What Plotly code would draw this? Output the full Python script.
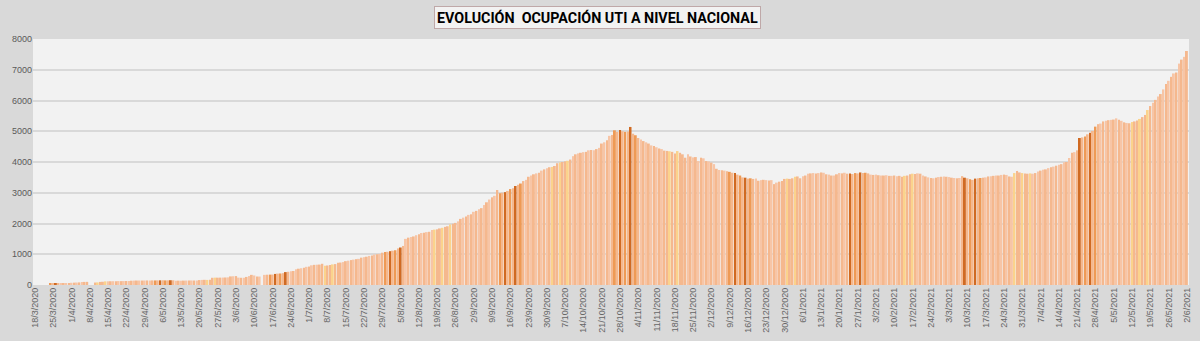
import pandas as pd
import plotly.graph_objects as go

# ---- data -------------------------------------------------------------
start_date = "2020-03-18"
end_date = "2021-06-02"
dates = pd.date_range(start_date, end_date, freq="D")

# daily ICU occupancy; None = no bar
uti = [
    None, None, None, None, None, None,              # 18/3 - 23/3
    35, 40, 45, 50, 55, 58, 62, 66,                   # 24/3 - 31/3
    72, 76, 80, 85, 95, 100, 102,                     # 1/4 - 7/4
    None, None, 80, 85, 100, 105, 118,                # 8/4 - 14/4
    120, 122, 124, 125, 127, 126, 128,                # 15/4 - 21/4
    130, 132, 140, 143, 145, 146, 145,                # 22/4 - 28/4
    147, 148, 146, 150, 148, 150, 152,                # 29/4 - 5/5
    151, 150, 152, 155, 153, 140, 142,                # 6/5 - 12/5
    140, 143, 145, 147, 148, 146, 150,                # 13/5 - 19/5
    160, 165, 168, 166, 170, 235, 240,                # 20/5 - 26/5
    238, 240, 242, 245, 248, 280, 285,                # 27/5 - 2/6
    290, 240, 235, 238, 262, 290, 330,                # 3/6 - 9/6
    310, 280, 275, None, 330, 335, 338,               # 10/6 - 16/6
    340, 360, 370, 375, 385, 420, 430,                # 17/6 - 23/6
    445, 455, 510, 530, 545, 560, 590,                # 24/6 - 30/6
    600, 640, 655, 660, 665, 690, 630,                # 1/7 - 7/7
    635, 650, 670, 680, 720, 730, 745,                # 8/7 - 14/7
    775, 790, 810, 825, 840, 850, 890,                # 15/7 - 21/7
    905, 920, 945, 960, 990, 1000, 1010,              # 22/7 - 28/7
    1050, 1070, 1080, 1100, 1115, 1130, 1190,         # 29/7 - 4/8
    1220, 1270, 1500, 1540, 1560, 1580, 1620,         # 5/8 - 11/8
    1650, 1690, 1700, 1720, 1730, 1790, 1800,         # 12/8 - 18/8
    1810, 1840, 1860, 1890, 1910, 1970, 1990,         # 19/8 - 25/8
    2020, 2070, 2150, 2190, 2230, 2280, 2300,         # 26/8 - 1/9
    2380, 2410, 2460, 2500, 2600, 2690, 2780,         # 2/9 - 8/9
    2850, 2900, 3090, 2980, 3000, 3020, 3060,         # 9/9 - 15/9
    3120, 3150, 3220, 3260, 3300, 3380, 3420,         # 16/9 - 22/9
    3520, 3560, 3600, 3630, 3650, 3720, 3760,         # 23/9 - 29/9
    3800, 3830, 3840, 3870, 3960, 3980, 4000,         # 30/9 - 6/10
    4020, 4040, 4080, 4190, 4250, 4280, 4300,         # 7/10 - 13/10
    4320, 4330, 4380, 4390, 4380, 4420, 4460,         # 14/10 - 20/10
    4600, 4640, 4710, 4850, 4880, 5030, 4980,         # 21/10 - 27/10
    5040, 5000, 4980, 4990, 5140, 4920, 4870,         # 28/10 - 3/11
    4780, 4730, 4680, 4640, 4600, 4540, 4520,         # 4/11 - 10/11
    4480, 4440, 4420, 4370, 4360, 4350, 4330,         # 11/11 - 17/11
    4280, 4355, 4300, 4250, 4140, 4250, 4180,         # 18/11 - 24/11
    4150, 4160, 4030, 4140, 4120, 4030, 4020,         # 25/11 - 1/12
    3980, 3930, 3780, 3740, 3730, 3720, 3700,         # 2/12 - 8/12
    3680, 3650, 3640, 3590, 3560, 3500, 3490,         # 9/12 - 15/12
    3460, 3470, 3450, 3460, 3390, 3410, 3420,         # 16/12 - 22/12
    3410, 3400, 3410, 3280, 3330, 3360, 3380,         # 23/12 - 29/12
    3450, 3460, 3450, 3470, 3520, 3530, 3470,         # 30/12 - 5/1
    3540, 3560, 3620, 3630, 3640, 3630, 3640,         # 6/1 - 12/1
    3660, 3650, 3600, 3590, 3560, 3560, 3600,         # 13/1 - 19/1
    3640, 3630, 3650, 3620, 3630, 3610, 3640,         # 20/1 - 26/1
    3630, 3660, 3640, 3650, 3630, 3590, 3580,         # 27/1 - 2/2
    3590, 3570, 3560, 3560, 3570, 3550, 3550,         # 3/2 - 9/2
    3560, 3540, 3550, 3520, 3550, 3560, 3600,         # 10/2 - 16/2
    3620, 3610, 3630, 3620, 3560, 3530, 3500,         # 17/2 - 23/2
    3480, 3470, 3490, 3510, 3520, 3530, 3520,         # 24/2 - 2/3
    3510, 3490, 3480, 3470, 3480, 3540, 3490,         # 3/3 - 9/3
    3470, 3440, 3420, 3460, 3470, 3480, 3490,         # 10/3 - 16/3
    3500, 3530, 3540, 3550, 3560, 3560, 3580,         # 17/3 - 23/3
    3590, 3580, 3530, 3520, 3640, 3710, 3660,         # 24/3 - 30/3
    3640, 3630, 3620, 3630, 3620, 3640, 3690,         # 31/3 - 6/4
    3720, 3750, 3760, 3800, 3830, 3850, 3880,         # 7/4 - 13/4
    3910, 3930, 3990, 4000, 4130, 4300, 4320,         # 14/4 - 20/4
    4380, 4780, 4800, 4830, 4900, 4950, 5010,         # 21/4 - 27/4
    5150, 5230, 5250, 5320, 5340, 5360, 5370,         # 28/4 - 4/5
    5380, 5420, 5370, 5340, 5290, 5270, 5260,         # 5/5 - 11/5
    5300, 5320, 5350, 5400, 5460, 5530, 5690,         # 12/5 - 18/5
    5820, 5930, 6020, 6130, 6210, 6360, 6540,         # 19/5 - 25/5
    6640, 6770, 6880, 6910, 7200, 7330, 7420,         # 26/5 - 1/6
    7610,                                             # 2/6
]
assert len(uti) == len(dates), (len(uti), len(dates))

title_text = "EVOLUCIÓN  OCUPACIÓN UTI A NIVEL NACIONAL"
y_ticks = [0, 1000, 2000, 3000, 4000, 5000, 6000, 7000, 8000]
tick_dates = dates[::7]
tick_labels = [f"{d.day}/{d.month}/{d.year}" for d in tick_dates]

# ---- styling ----------------------------------------------------------
BASE = "#F5B88E"
LIGHT = "#F7C5A6"
DARK = "#D06A22"
MID = "#EE9A55"
YEL = "#FBD38C"

colors = []
for i in range(len(dates)):
    phase = (i % 44.3) / 44.3
    if phase < 0.2:
        c = DARK if i % 4 == 0 else (MID if i % 4 == 2 else BASE)
    elif 0.45 < phase < 0.62:
        c = YEL if i % 3 == 0 else BASE
    else:
        c = LIGHT if i % 2 == 0 else BASE
    colors.append(c)

fig = go.Figure(
    go.Bar(
        x=dates,
        y=uti,
        marker=dict(color=colors, line=dict(width=0)),
        hoverinfo="x+y",
    )
)

x0 = dates[0] - pd.Timedelta(hours=18.5)
x1 = dates[-1] + pd.Timedelta(hours=19)

fig.update_layout(
    width=1200,
    height=341,
    margin=dict(l=33, r=11, t=39, b=56, pad=0),
    paper_bgcolor="#D9D9D9",
    plot_bgcolor="#F2F2F2",
    bargap=0.28,
    showlegend=False,
    font=dict(family="Liberation Sans, Arial, sans-serif", color="#595959"),
    xaxis=dict(
        type="date",
        range=[x0, x1],
        tickmode="array",
        tickvals=list(tick_dates),
        ticktext=tick_labels,
        tickangle=-90,
        tickfont=dict(size=9, color="#666666"),
        showgrid=False,
        zeroline=False,
        showline=False,
        ticks="",
        automargin=False,
    ),
    yaxis=dict(
        range=[0, 8000],
        tickmode="array",
        tickvals=y_ticks,
        tickfont=dict(size=9, color="#595959"),
        showgrid=True,
        gridcolor="#D9D9D9",
        gridwidth=1.5,
        zeroline=False,
        showline=False,
        ticks="",
        automargin=False,
    ),
    annotations=[
        dict(
            text="<b>" + title_text + "</b>",
            xref="paper",
            yref="paper",
            x=0.4885,
            y=1.0,
            yshift=22,
            xanchor="center",
            yanchor="middle",
            showarrow=False,
            font=dict(family="Roboto, sans-serif", size=14.3, color="#000000"),
            bgcolor="#F2F2F2",
            bordercolor="#BFA8A8",
            borderwidth=1,
            borderpad=2,
        )
    ],
)

fig.write_html("out.html")
